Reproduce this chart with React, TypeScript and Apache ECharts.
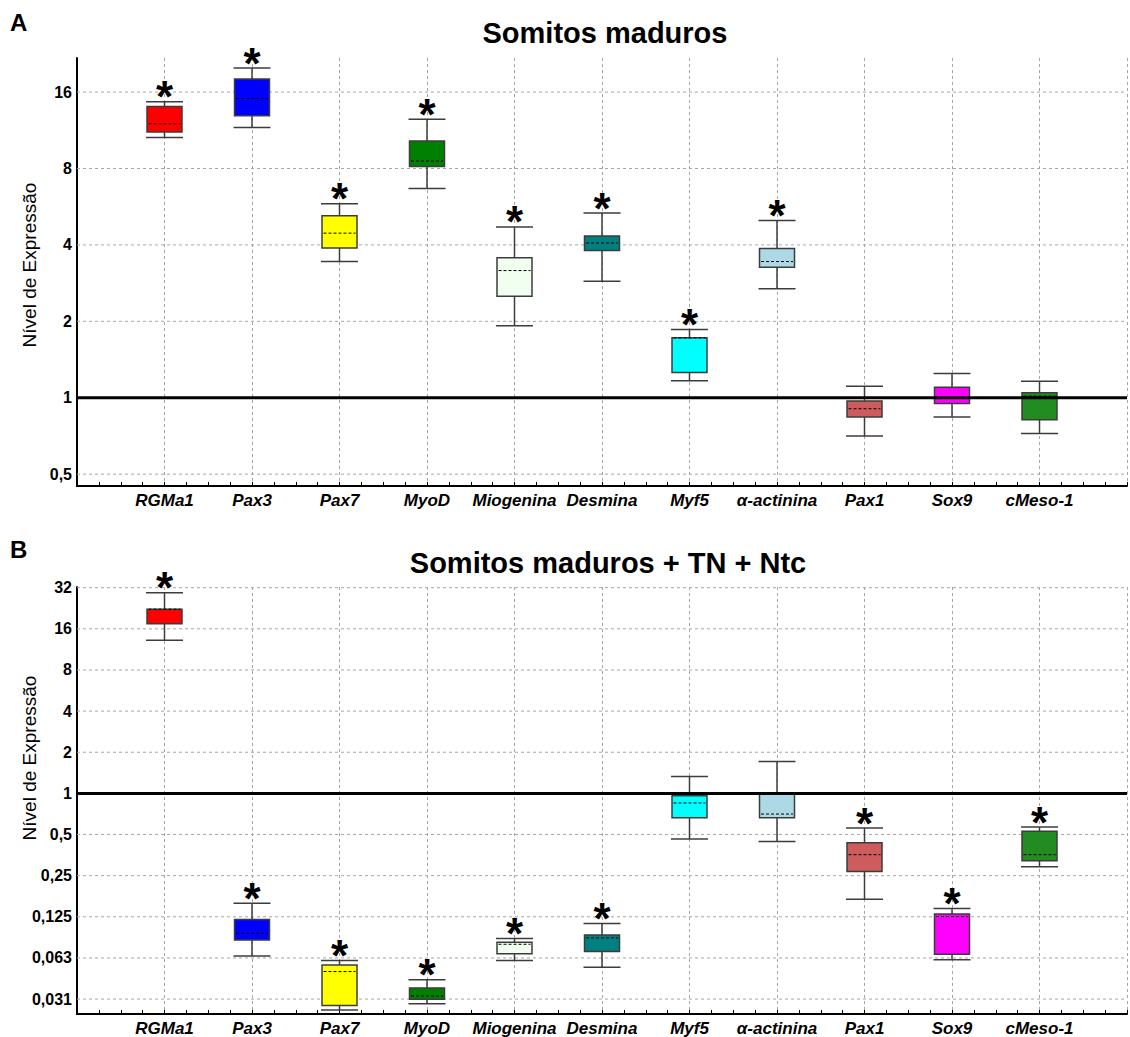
import React, { useEffect, useRef } from 'react';
import * as echarts from 'echarts';

const categories = ['RGMa1', 'Pax3', 'Pax7', 'MyoD', 'Miogenina', 'Desmina', 'Myf5', 'α-actinina', 'Pax1', 'Sox9', 'cMeso-1'];
const boxColors = ['#FF0000', '#0000FF', '#FFFF00', '#008000', '#F0FFF0', '#008080', '#00FFFF', '#ADD8E6', '#CD5C5C', '#FF00FF', '#228B22'];

// Panel A – Somitos maduros (expression level, fold change)
const aWhiskerLow = [10.6, 11.6, 3.44, 6.67, 1.92, 2.88, 1.166, 2.69, 0.706, 0.839, 0.723];
const aQ1 = [11.13, 12.9, 3.89, 8.15, 2.51, 3.8, 1.257, 3.27, 0.839, 0.95, 0.819];
const aMedian = [12.0, 15.1, 4.45, 8.56, 3.17, 4.07, 1.72, 3.44, 0.905, 1.0, 1.015];
const aQ3 = [14.05, 18.0, 5.21, 10.26, 3.56, 4.34, 1.722, 3.87, 0.97, 1.1, 1.046];
const aWhiskerHigh = [14.65, 19.9, 5.81, 12.5, 4.71, 5.34, 1.857, 4.99, 1.11, 1.247, 1.16];
const aStar = [1, 1, 1, 1, 1, 1, 1, 1, 0, 0, 0];
const aTicks = [16, 8, 4, 2, 1, 0.5];
const aTickLabels = ['16', '8', '4', '2', '1', '0,5'];
const aRange = [0.449, 21.8];

// Panel B – Somitos maduros + TN + Ntc
const bWhiskerLow = [13.2, 0.0647, 0.026, 0.0289, 0.0598, 0.0534, 0.464, 0.444, 0.168, 0.0605, 0.291];
const bQ1 = [17.4, 0.0847, 0.028, 0.0312, 0.0672, 0.0696, 0.664, 0.663, 0.268, 0.0665, 0.321];
const bMedian = [22.3, 0.0946, 0.0497, 0.0329, 0.0787, 0.0876, 0.851, 0.706, 0.356, 0.1255, 0.356];
const bQ3 = [22.3, 0.1192, 0.0556, 0.0376, 0.0814, 0.0921, 0.962, 1.0, 0.436, 0.131, 0.528];
const bWhiskerHigh = [29.4, 0.157, 0.0598, 0.0433, 0.0866, 0.1118, 1.331, 1.71, 0.557, 0.144, 0.567];
const bStar = [1, 1, 1, 1, 1, 1, 0, 0, 1, 1, 1];
const bTicks = [32, 16, 8, 4, 2, 1, 0.5, 0.25, 0.125, 0.0625, 0.03125];
const bTickLabels = ['32', '16', '8', '4', '2', '1', '0,5', '0,25', '0,125', '0,063', '0,031'];
const bRange = [0.0243, 32.38];

const FONT = '"Liberation Sans", Arial, Helvetica, sans-serif';
const GRID_COLOR = '#a6a6a6';
const GRID_DASH = [3, 3];
const BOX_STROKE = '#3c3c3c';

function buildPanel(idx: number, wl: number[], q1: number[], med: number[], q3: number[], wh: number[], star: number[], ticks: number[], tickLabels: string[]) {
  const hgrid = {
    type: 'custom',
    xAxisIndex: idx,
    yAxisIndex: idx,
    z: 1,
    clip: false,
    silent: true,
    data: ticks.map((t, i) => [0, Math.log2(t), i]),
    renderItem: (params: any, api: any) => {
      const v = api.value(1);
      const i = api.value(2);
      const p0 = api.coord([0, v]);
      const p1 = api.coord([12, v]);
      const children: any[] = [];
      if (Math.abs(v) > 1e-9) {
        children.push({
          type: 'line',
          shape: { x1: p0[0], y1: p0[1], x2: p1[0], y2: p1[1] },
          style: { stroke: GRID_COLOR, lineWidth: 1, lineDash: GRID_DASH },
        });
      }
      children.push({
        type: 'text',
        x: p0[0] - 5,
        y: p0[1],
        style: {
          text: tickLabels[i],
          align: 'right',
          verticalAlign: 'middle',
          fontFamily: FONT,
          fontWeight: 'bold',
          fontSize: 16,
          fill: '#000',
        },
      });
      return { type: 'group', children };
    },
  };

  const boxes = {
    type: 'custom',
    xAxisIndex: idx,
    yAxisIndex: idx,
    z: 2,
    clip: false,
    silent: true,
    data: categories.map((c, i) => [
      i + 1,
      Math.log2(wl[i]),
      Math.log2(q1[i]),
      Math.log2(med[i]),
      Math.log2(q3[i]),
      Math.log2(wh[i]),
      star[i],
      i,
    ]),
    renderItem: (params: any, api: any) => {
      const x = api.value(0);
      const pWl = api.coord([x, api.value(1)]);
      const cx = pWl[0];
      const yWl = pWl[1];
      const yQ1 = api.coord([x, api.value(2)])[1];
      const yMed = api.coord([x, api.value(3)])[1];
      const yQ3 = api.coord([x, api.value(4)])[1];
      const yWh = api.coord([x, api.value(5)])[1];
      const hasStar = api.value(6);
      const ci = api.value(7);
      const bw = api.size([1, 0])[0] * 0.4;
      const hw = bw / 2;
      const children: any[] = [
        { type: 'line', shape: { x1: cx, y1: yQ3, x2: cx, y2: yWh }, style: { stroke: BOX_STROKE, lineWidth: 1.5 } },
        { type: 'line', shape: { x1: cx, y1: yQ1, x2: cx, y2: yWl }, style: { stroke: BOX_STROKE, lineWidth: 1.5 } },
        { type: 'line', shape: { x1: cx - hw - 1, y1: yWh, x2: cx + hw + 1, y2: yWh }, style: { stroke: BOX_STROKE, lineWidth: 1.5 } },
        { type: 'line', shape: { x1: cx - hw - 1, y1: yWl, x2: cx + hw + 1, y2: yWl }, style: { stroke: BOX_STROKE, lineWidth: 1.5 } },
        {
          type: 'rect',
          shape: { x: cx - hw, y: yQ3, width: bw, height: yQ1 - yQ3 },
          style: { fill: boxColors[ci], stroke: BOX_STROKE, lineWidth: 1.5 },
        },
        {
          type: 'line',
          shape: { x1: cx - hw + 1.5, y1: yMed, x2: cx + hw - 1.5, y2: yMed },
          style: { stroke: '#000', lineWidth: 1, lineDash: [3, 2] },
        },
      ];
      if (hasStar) {
        children.push({
          type: 'text',
          x: cx,
          y: yWh - 5,
          style: {
            text: '*',
            align: 'center',
            verticalAlign: 'middle',
            fontFamily: FONT,
            fontWeight: 'bold',
            fontSize: 44,
            fill: '#000',
          },
        });
      }
      return { type: 'group', children };
    },
  };

  const refLine = {
    type: 'custom',
    xAxisIndex: idx,
    yAxisIndex: idx,
    z: 5,
    clip: false,
    silent: true,
    data: [[0, 0]],
    renderItem: (params: any, api: any) => {
      const p0 = api.coord([0, 0]);
      const p1 = api.coord([12, 0]);
      return {
        type: 'line',
        shape: { x1: p0[0], y1: p0[1], x2: p1[0], y2: p1[1] },
        style: { stroke: '#000', lineWidth: 3 },
      };
    },
  };

  return [hgrid, boxes, refLine];
}

function makeXAxis(gridIndex: number) {
  return {
    type: 'value',
    gridIndex,
    min: 0,
    max: 12,
    interval: 1,
    axisLine: { show: true, onZero: false, lineStyle: { color: '#000', width: 2 } },
    axisTick: { show: true, inside: true, length: 4, lineStyle: { color: '#000', width: 1 } },
    minorTick: { show: true, splitNumber: 4, length: 4, lineStyle: { color: '#000', width: 1 } },
    splitLine: { show: true, lineStyle: { color: GRID_COLOR, width: 1, type: GRID_DASH } },
    axisLabel: {
      margin: 6,
      fontFamily: FONT,
      fontStyle: 'italic',
      fontWeight: 'bold',
      fontSize: 17,
      color: '#000',
      formatter: (v: number) => (v >= 1 && v <= categories.length ? categories[v - 1] : ''),
    },
  };
}

function makeYAxis(gridIndex: number, range: number[]) {
  return {
    type: 'value',
    gridIndex,
    min: Math.log2(range[0]),
    max: Math.log2(range[1]),
    axisLine: { show: true, onZero: false, lineStyle: { color: '#000', width: 2 } },
    axisTick: { show: false },
    axisLabel: { show: false },
    splitLine: { show: false },
  };
}

export default function App() {
  const ref = useRef<HTMLDivElement>(null);

  useEffect(() => {
    if (!ref.current) return;
    const chart = echarts.init(ref.current, null, { renderer: 'svg' });
    const option: any = {
      animation: false,
      backgroundColor: '#ffffff',
      grid: [
        { left: 77, top: 58, width: 1055, height: 428 },
        { left: 77, top: 587, width: 1055, height: 427 },
      ],
      xAxis: [makeXAxis(0), makeXAxis(1)],
      yAxis: [makeYAxis(0, aRange), makeYAxis(1, bRange)],
      graphic: [
        { type: 'text', left: 10, top: 10, style: { text: 'A', fontFamily: FONT, fontWeight: 'bold', fontSize: 24, fill: '#000' } },
        { type: 'text', left: 10, top: 537, style: { text: 'B', fontFamily: FONT, fontWeight: 'bold', fontSize: 24, fill: '#000' } },
        {
          type: 'text', x: 605, y: 33,
          style: { text: 'Somitos maduros', align: 'center', verticalAlign: 'middle', fontFamily: FONT, fontWeight: 'bold', fontSize: 29, fill: '#000' },
        },
        {
          type: 'text', x: 608, y: 563,
          style: { text: 'Somitos maduros + TN + Ntc', align: 'center', verticalAlign: 'middle', fontFamily: FONT, fontWeight: 'bold', fontSize: 29, fill: '#000' },
        },
        {
          type: 'text', x: 29, y: 265, rotation: Math.PI / 2,
          style: { text: 'Nível de Expressão', align: 'center', verticalAlign: 'middle', fontFamily: FONT, fontSize: 19, fill: '#000' },
        },
        {
          type: 'text', x: 29, y: 758, rotation: Math.PI / 2,
          style: { text: 'Nível de Expressão', align: 'center', verticalAlign: 'middle', fontFamily: FONT, fontSize: 19, fill: '#000' },
        },
      ],
      series: [
        ...buildPanel(0, aWhiskerLow, aQ1, aMedian, aQ3, aWhiskerHigh, aStar, aTicks, aTickLabels),
        ...buildPanel(1, bWhiskerLow, bQ1, bMedian, bQ3, bWhiskerHigh, bStar, bTicks, bTickLabels),
      ],
    };
    chart.setOption(option);
    return () => chart.dispose();
  }, []);

  return (
    <div
      ref={ref}
      style={{ position: 'absolute', left: 0, top: 0, width: 1130, height: 1037, background: '#fff' }}
    />
  );
}
